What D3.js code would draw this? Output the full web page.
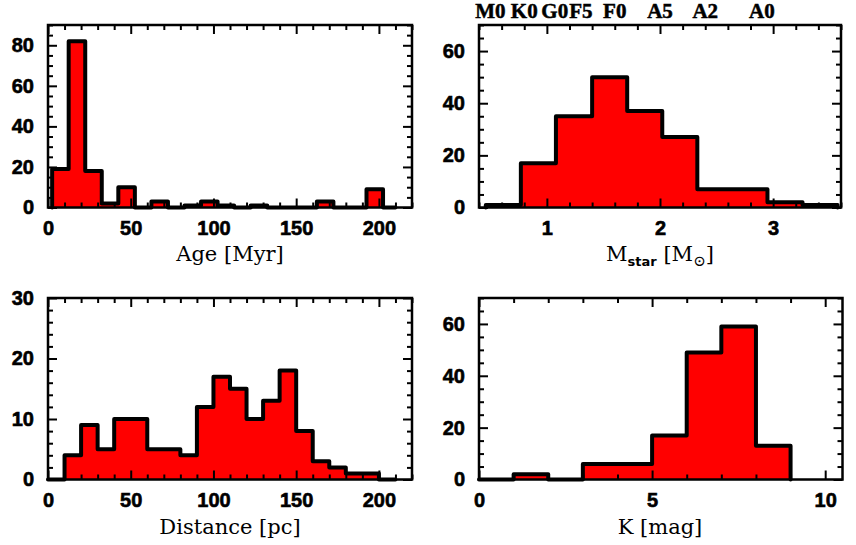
<!DOCTYPE html>
<html>
<head>
<meta charset="utf-8">
<script src="https://cdn.jsdelivr.net/npm/d3@7"></script>
<style>
  html, body { margin: 0; padding: 0; background: #fff; }
  svg { display: block; }
  .tick text { font-family: "Liberation Sans", Arial, sans-serif; font-weight: bold; font-size: 20px; fill: #000; stroke: #000; stroke-width: 0.6px; }
  .tick line { stroke: #000; stroke-width: 2; }
  .atitle { font-family: "DejaVu Serif", serif; font-size: 21px; fill: #000; }
  .sptype { font-family: "Liberation Serif", serif; font-weight: bold; font-size: 21px; fill: #000; stroke: #000; stroke-width: 0.5px; }
</style>
</head>
<body>
<svg id="chart" width="856" height="545"></svg>
<script>
// ---------- data ----------
// Age histogram (bin edges in Myr, counts)
const ageEdges  = [2.5, 12.5, 22.5, 32.5, 42.5, 52.5, 62.5, 72.5, 82.5, 92.5, 102.5, 112.5, 122.5, 132.5, 142.5, 152.5, 162.5, 172.5, 182.5, 192.5, 202.5, 210];
const ageCounts = [19, 82, 18, 2, 10, 0, 3, 0, 1, 3, 1, 0, 1, 0, 0, 0, 3, 0, 0, 9, 0];

// Stellar mass histogram (bin edges in Msun, counts)
const massEdges  = [0.46, 0.77, 1.08, 1.40, 1.71, 2.02, 2.33, 2.64, 2.95, 3.26, 3.57];
const massCounts = [1, 17, 35, 50, 37, 27, 7, 7, 2, 1];

// Spectral type labels on top of mass panel
const spTypes  = ["M0", "K0", "G0", "F5", "F0", "A5", "A2", "A0"];
const spMasses = [0.5, 0.8, 1.07, 1.3, 1.6, 2.0, 2.4, 2.9];

// Distance histogram (bin edges in pc, counts)
const distEdges  = [0, 10, 20, 30, 40, 50, 60, 70, 80, 90, 100, 110, 120, 130, 140, 150, 160, 170, 180, 190, 200, 210];
const distCounts = [0, 4, 9, 5, 10, 10, 5, 5, 4, 12, 17, 15, 10, 13, 18, 8, 3, 2, 1, 1, 0];

// K magnitude histogram (bin edges in mag, counts)
const kEdges  = [0, 1, 2, 3, 4, 5, 6, 7, 8, 9];
const kCounts = [0, 2, 0, 6, 6, 17, 49, 59, 13];

// tick values
const ageXMajor  = [0, 50, 100, 150, 200];
const massXMajor = [1, 2, 3];
const kXMajor    = [0, 5, 10];
const ageYMajor  = [0, 20, 40, 60, 80];
const massYMajor = [0, 20, 40, 60];
const distYMajor = [0, 10, 20, 30];
const kYMajor    = [0, 20, 40, 60];

// ---------- drawing ----------
const svg = d3.select("#chart");

function range(a, b, s) { return d3.range(a, b + s / 2, s).map(v => +v.toFixed(6)); }

function panel(opt) {
  const g = svg.append("g");
  const x = d3.scaleLinear().domain(opt.xDomain).range([opt.left, opt.right]);
  const y = d3.scaleLinear().domain(opt.yDomain).range([opt.bottom, opt.top]);

  // histogram step path
  const pts = [[opt.edges[0], 0]];
  opt.counts.forEach((c, i) => { pts.push([opt.edges[i], c]); pts.push([opt.edges[i + 1], c]); });
  pts.push([opt.edges[opt.edges.length - 1], 0]);
  const line = d3.line().x(d => x(d[0])).y(d => y(d[1]));
  g.append("path").attr("d", line(pts) + "Z").attr("fill", "#ff0000").attr("stroke", "none");
  g.append("path").attr("d", line(pts)).attr("fill", "none").attr("stroke", "#000")
    .attr("stroke-width", 4).attr("stroke-linejoin", "round").attr("stroke-linecap", "round");

  const H = opt.bottom - opt.top, W = opt.right - opt.left;
  const xMinor = opt.xMinor.filter(v => !opt.xMajor.includes(v));
  const yMinor = opt.yMinor.filter(v => !opt.yMajor.includes(v));

  function addAxis(axis, tx, ty, labels) {
    const a = g.append("g").attr("transform", `translate(${tx},${ty})`).call(axis);
    a.select(".domain").remove();
    if (!labels) a.selectAll("text").remove();
    return a;
  }
  // bottom
  addAxis(d3.axisBottom(x).tickValues(opt.xMajor).tickSize(-9).tickPadding(13).tickFormat(d3.format("d")), 0, opt.bottom, true);
  addAxis(d3.axisBottom(x).tickValues(xMinor).tickSize(-5), 0, opt.bottom, false);
  // top
  addAxis(d3.axisTop(x).tickValues(opt.xMajor).tickSize(-9), 0, opt.top, false);
  addAxis(d3.axisTop(x).tickValues(xMinor).tickSize(-5), 0, opt.top, false);
  // left
  addAxis(d3.axisLeft(y).tickValues(opt.yMajor).tickSize(-9).tickPadding(14).tickFormat(d3.format("d")), opt.left, 0, true);
  addAxis(d3.axisLeft(y).tickValues(yMinor).tickSize(-5), opt.left, 0, false);
  // right
  addAxis(d3.axisRight(y).tickValues(opt.yMajor).tickSize(-9), opt.right, 0, false);
  addAxis(d3.axisRight(y).tickValues(yMinor).tickSize(-5), opt.right, 0, false);

  g.append("rect").attr("x", opt.left).attr("y", opt.top).attr("width", W).attr("height", H)
    .attr("fill", "none").attr("stroke", "#000").attr("stroke-width", 2.5);

  return { g, x, y };
}

// Panel 1: Age
const p1 = panel({
  left: 48, right: 412, top: 25, bottom: 207.5,
  xDomain: [0, 220], yDomain: [0, 90],
  edges: ageEdges, counts: ageCounts,
  xMajor: ageXMajor, xMinor: range(0, 220, 10),
  yMajor: ageYMajor, yMinor: range(0, 90, 5)
});
p1.g.append("text").attr("class", "atitle").attr("x", 230).attr("y", 261)
  .attr("text-anchor", "middle").text("Age [Myr]");

// Panel 2: Mass
const p2 = panel({
  left: 479, right: 841, top: 25, bottom: 207.5,
  xDomain: [0.4, 3.6], yDomain: [0, 70],
  edges: massEdges, counts: massCounts,
  xMajor: massXMajor, xMinor: range(0.4, 3.6, 0.2),
  yMajor: massYMajor, yMinor: range(0, 70, 5)
});
const mt = p2.g.append("text").attr("class", "atitle").attr("x", 660).attr("y", 261)
  .attr("text-anchor", "middle");
mt.append("tspan").text("M");
mt.append("tspan").attr("dy", 5).attr("font-size", 13).attr("font-weight", "bold")
  .attr("font-family", "DejaVu Sans, sans-serif").text("star");
mt.append("tspan").attr("dy", -5).text(" [M");
mt.append("tspan").attr("dy", 5).attr("font-size", 15).text("\u2299");
mt.append("tspan").attr("dy", -5).text("]");

p2.g.selectAll("text.sptype").data(spTypes).join("text")
  .attr("class", "sptype")
  .attr("x", (d, i) => p2.x(spMasses[i]))
  .attr("y", 18)
  .attr("text-anchor", "middle")
  .text(d => d);

// Panel 3: Distance
const p3 = panel({
  left: 48, right: 412, top: 298, bottom: 479.5,
  xDomain: [0, 220], yDomain: [0, 30],
  edges: distEdges, counts: distCounts,
  xMajor: ageXMajor, xMinor: range(0, 220, 10),
  yMajor: distYMajor, yMinor: range(0, 30, 2)
});
p3.g.append("text").attr("class", "atitle").attr("x", 230).attr("y", 534)
  .attr("text-anchor", "middle").text("Distance [pc]");

// Panel 4: K mag
const p4 = panel({
  left: 479, right: 842.5, top: 298, bottom: 479.5,
  xDomain: [0, 10.5], yDomain: [0, 70],
  edges: kEdges, counts: kCounts,
  xMajor: kXMajor, xMinor: range(0, 10, 1),
  yMajor: kYMajor, yMinor: range(0, 70, 5)
});
p4.g.append("text").attr("class", "atitle").attr("x", 660).attr("y", 534)
  .attr("text-anchor", "middle").text("K [mag]");
</script>
</body>
</html>
